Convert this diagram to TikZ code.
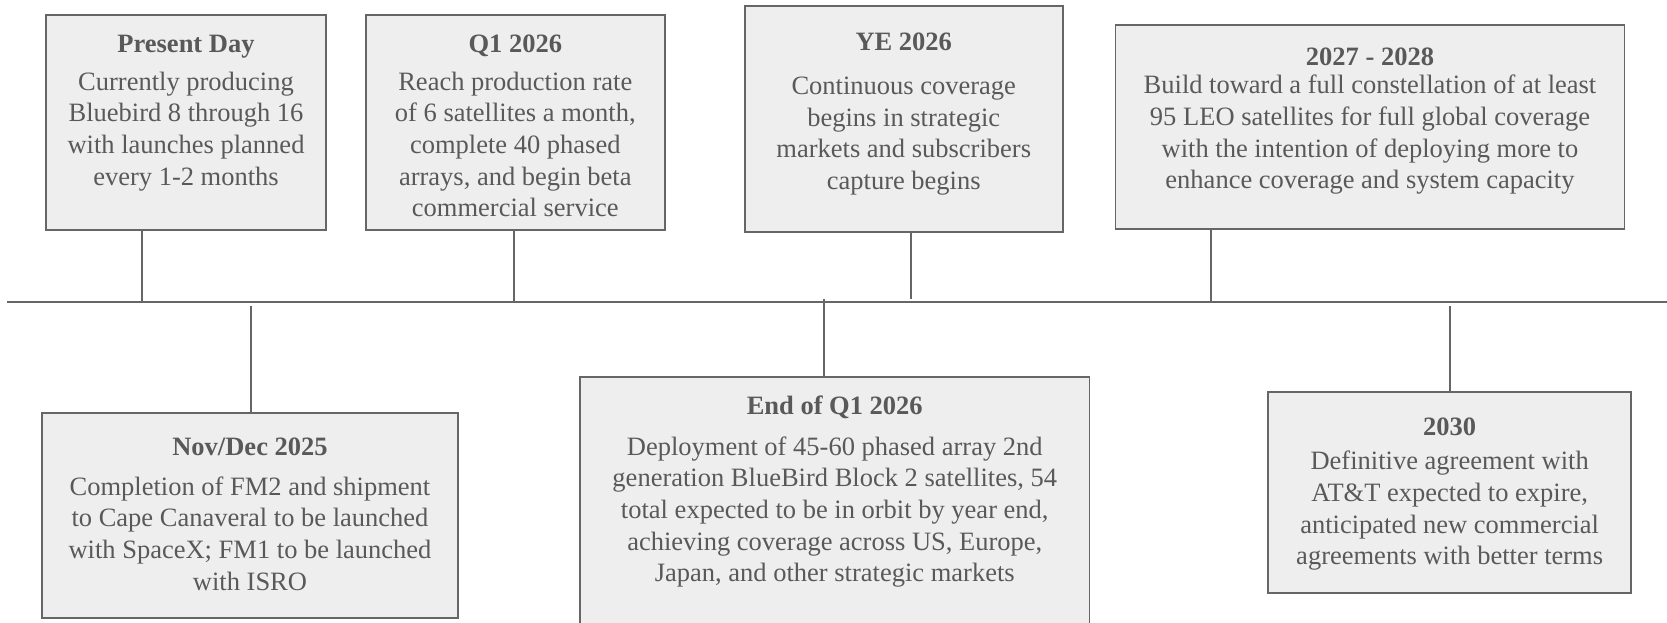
\documentclass[tikz,border=0pt]{standalone}
\usepackage{fontspec}
\setmainfont{Liberation Serif}
\definecolor{boxfill}{HTML}{EEEEEE}
\definecolor{boxline}{HTML}{666666}
\definecolor{txtcol}{HTML}{595959}
\tikzset{
  box/.style={draw=boxline, fill=boxfill, line width=1.8pt, inner sep=0pt, rectangle},
  txt/.style={anchor=north, align=center, inner sep=0pt, text=txtcol,
    font=\fontsize{26.5}{31.7}\selectfont},
  conn/.style={draw=boxline, line width=1.8pt},
  tline/.style={draw=boxline, line width=2pt}
}
\begin{document}
\begin{tikzpicture}[x=1pt,y=-1pt]
\useasboundingbox (0,0) rectangle (1667,623);
% boxes
\node[box, minimum width=280pt, minimum height=215.3pt] (pd) at (186,122.35) {};
\node[box, minimum width=299.4pt, minimum height=215.3pt] (q1) at (515.3,122.35) {};
\node[box, minimum width=317.9pt, minimum height=226pt] (ye) at (903.75,118.7) {};
\node[box, minimum width=509pt, minimum height=204.1pt] (yy) at (1370,127.25) {};
\node[box, minimum width=416pt, minimum height=205pt] (nd) at (250,515.2) {};
\node[box, minimum width=509.5pt, minimum height=249.3pt] (eq) at (834.75,501.35) {};
\node[box, minimum width=363.3pt, minimum height=200.7pt] (tt) at (1449.65,492.65) {};
% texts
\node[txt] (pdT) at (186,29.8) {\strut\textbf{Present Day}\\[6.3pt]Currently producing\\Bluebird 8 through 16\\with launches planned\\every 1-2 months};
\node[txt] (q1T) at (515.3,29.8) {\strut\textbf{Q1 2026}\\[6.3pt]Reach production rate\\of 6 satellites a month,\\complete 40 phased\\arrays, and begin beta\\commercial service};
\node[txt] (yeT) at (903.75,28.5) {\strut\textbf{YE 2026}\\[11.9pt]Continuous coverage\\begins in strategic\\markets and subscribers\\capture begins};
\node[txt] (yyT) at (1370,42.8) {\strut\textbf{2027 - 2028}\\[-3pt]Build toward a full constellation of at least\\95 LEO satellites for full global coverage\\with the intention of deploying more to\\enhance coverage and system capacity};
\node[txt] (ndT) at (250,433.5) {\strut\textbf{Nov/Dec 2025}\\[7.6pt]Completion of FM2 and shipment\\to Cape Canaveral to be launched\\with SpaceX; FM1 to be launched\\with ISRO};
\node[txt] (eqT) at (834.75,391.8) {\strut\textbf{End of Q1 2026}\\[9.3pt]Deployment of 45-60 phased array 2nd\\generation BlueBird Block 2 satellites, 54\\total expected to be in orbit by year end,\\achieving coverage across US, Europe,\\Japan, and other strategic markets};
\node[txt] (ttT) at (1449.65,412.8) {\strut\textbf{2030}\\[2.8pt]Definitive agreement with\\AT\&T expected to expire,\\anticipated new commercial\\agreements with better terms};
% timeline
\coordinate (tl0) at (7.3,301.5);
\coordinate (tl1) at (1667,301.5);
\draw[tline] (tl0) -- (tl1);
% connector points
\coordinate (cpd) at (142,301.5);
\coordinate (cq1) at (514,301.5);
\coordinate (cye) at (911,299);
\coordinate (cyy) at (1211,301.5);
\coordinate (cnd) at (250.7,306);
\coordinate (ceq) at (823.7,299);
\coordinate (ctt) at (1450,306);
\draw[conn] (cpd |- pd.south) -- (cpd);
\draw[conn] (cq1 |- q1.south) -- (cq1);
\draw[conn] (cye |- ye.south) -- (cye);
\draw[conn] (cyy |- yy.south) -- (cyy);
\draw[conn] (cnd) -- (cnd |- nd.north);
\draw[conn] (ceq) -- (ceq |- eq.north);
\draw[conn] (ctt) -- (ctt |- tt.north);
\end{tikzpicture}
\end{document}
